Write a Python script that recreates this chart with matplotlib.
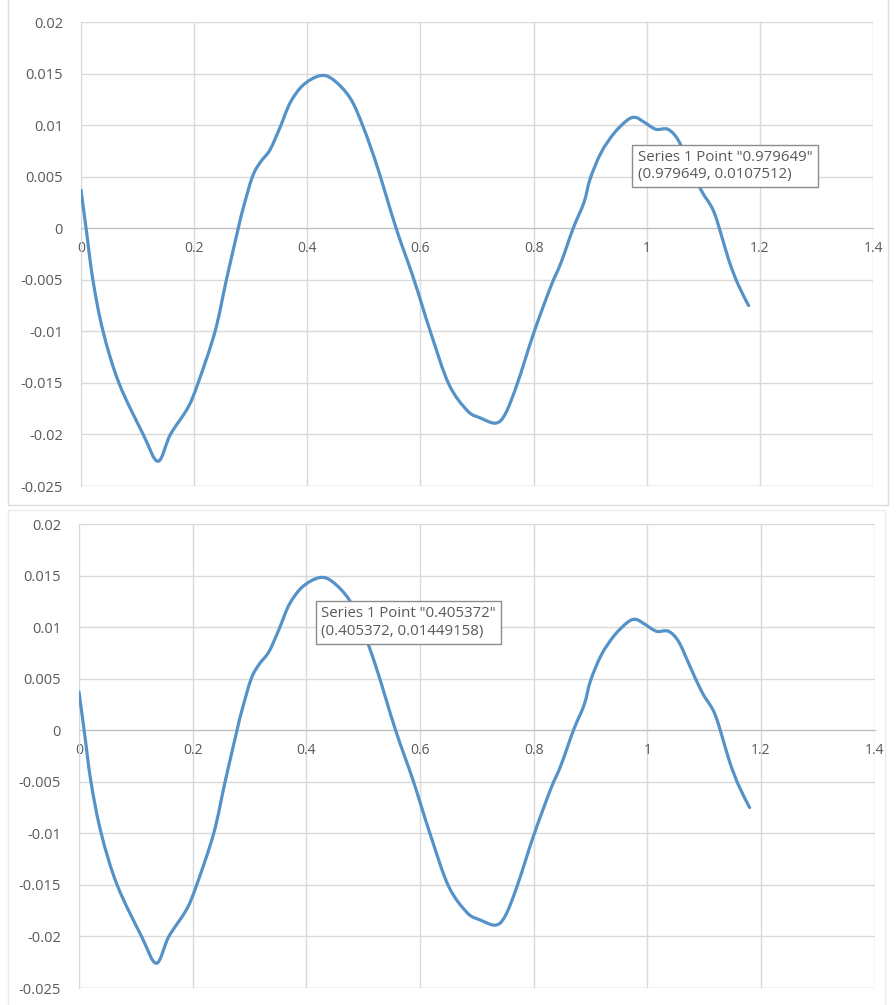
import numpy as np
import matplotlib
matplotlib.use("Agg")
import matplotlib.pyplot as plt
from matplotlib.patches import Rectangle, PathPatch
from matplotlib.path import Path

# values (same series drawn in both panels)
x_vals = [0, 0.009, 0.021, 0.039, 0.067, 0.110, 0.136, 0.158, 0.189, 0.207,
          0.237, 0.257, 0.278, 0.287, 0.303, 0.317, 0.334, 0.352, 0.370, 0.393,
          0.423, 0.446, 0.476, 0.499, 0.524, 0.557, 0.588, 0.618, 0.650, 0.683,
          0.706, 0.733, 0.750, 0.771, 0.800, 0.830, 0.848, 0.870, 0.889, 0.900,
          0.919, 0.942, 0.966, 0.980, 0.995, 1.016, 1.037, 1.055, 1.075, 1.096,
          1.117, 1.131, 1.145, 1.161, 1.180]
y_vals = [0.0037, 0, -0.005, -0.010, -0.015, -0.020, -0.0226, -0.020, -0.0174, -0.015,
          -0.010, -0.005, 0, 0.002, 0.005, 0.0064, 0.0076, 0.0098, 0.0122, 0.0139,
          0.0148, 0.0144, 0.0126, 0.0098, 0.0059, 0, -0.0049, -0.0101, -0.0151, -0.0177,
          -0.0184, -0.0189, -0.018, -0.0151, -0.0102, -0.0057, -0.0034, 0, 0.0025, 0.0048,
          0.0073, 0.0092, 0.0105, 0.01075, 0.0103, 0.0096, 0.0096, 0.0086, 0.0062, 0.0037,
          0.0018, -0.0005, -0.0031, -0.0054, -0.0075]

x_ticks = [0, 0.2, 0.4, 0.6, 0.8, 1, 1.2, 1.4]
x_labels = ["0", "0.2", "0.4", "0.6", "0.8", "1", "1.2", "1.4"]
y_ticks = [-0.025, -0.02, -0.015, -0.01, -0.005, 0, 0.005, 0.01, 0.015, 0.02]
y_labels = ["-0.025", "-0.02", "-0.015", "-0.01", "-0.005", "0", "0.005", "0.01", "0.015", "0.02"]

tip_top = ['Series 1 Point "0.979649"', '(0.979649, 0.0107512)']
tip_bottom = ['Series 1 Point "0.405372"', '(0.405372, 0.01449158)']

plt.rcParams['font.family'] = ['Open Sans', 'DejaVu Sans']
txt_col = '#595959'
grid_col = '#d9d9d9'
line_col = '#5592c8'

fig = plt.figure(figsize=(8.96, 10.05), dpi=100)
ax1 = fig.add_axes([0.0904, 0.5164, 0.884, 0.4617])
ax2 = fig.add_axes([0.0882, 0.0169, 0.888, 0.4617])


def smooth_path(xs, ys):
    # Excel-like "smoothed line": bezier segments through the data points
    p = np.column_stack([xs, ys])
    n = len(p)
    verts = [p[0]]
    codes = [Path.MOVETO]
    for i in range(n - 1):
        p0 = p[i - 1] if i > 0 else p[i]
        p3 = p[i + 2] if i + 2 < n else p[i + 1]
        c1 = p[i] + (p[i + 1] - p0) / 6
        c2 = p[i + 1] - (p3 - p[i]) / 6
        verts += [c1, c2, p[i + 1]]
        codes += [Path.CURVE4] * 3
    return Path(verts, codes)


def style(ax):
    ax.add_patch(PathPatch(smooth_path(x_vals, y_vals), fill=False, ec=line_col,
                           lw=2.3, joinstyle='round', capstyle='round', zorder=3))
    ax.set_xlim(0, 1.4)
    ax.set_ylim(-0.025, 0.02)
    ax.set_xticks(x_ticks)
    ax.set_xticklabels(x_labels)
    ax.set_yticks(y_ticks)
    ax.set_yticklabels(y_labels)
    ax.grid(True, color=grid_col, lw=1)
    ax.set_axisbelow(True)
    for s in ['top', 'right']:
        ax.spines[s].set_visible(False)
    ax.spines['left'].set_color(grid_col)
    ax.spines['bottom'].set_position(('data', 0))
    ax.spines['bottom'].set_color('#bfbfbf')
    ax.tick_params(axis='x', length=0, pad=9, labelsize=10, labelcolor=txt_col)
    ax.tick_params(axis='y', length=0, pad=13, labelsize=10.5, labelcolor=txt_col)
    ax.axhline(-0.025, color=grid_col, lw=1, zorder=0)


style(ax1)
style(ax2)

box = dict(boxstyle='square,pad=0.35', fc='white', ec='#8c8c8c', lw=1)
ax1.text(0.984, 0.0076, "\n".join(tip_top), ha='left', va='top', fontsize=10.8,
         color=txt_col, bbox=box, zorder=5, linespacing=1.2)
ax2.text(0.426, 0.0120, "\n".join(tip_bottom), ha='left', va='top', fontsize=10.8,
         color=txt_col, bbox=box, zorder=5, linespacing=1.2)

# faint outer frames of the two chart objects
fig.add_artist(Rectangle((0.009, 0.4975), 0.982, 0.6, transform=fig.transFigure,
                         fill=False, ec='#dcdcdc', lw=1))
fig.add_artist(Rectangle((0.009, -0.1), 0.979, 0.5925, transform=fig.transFigure,
                         fill=False, ec='#ececec', lw=1))

fig.savefig("out.png", dpi=100)
